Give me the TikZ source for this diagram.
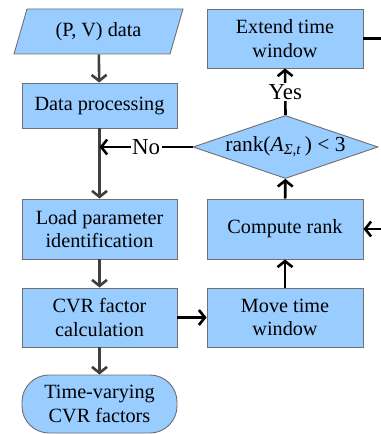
\documentclass[tikz,border=0pt]{standalone}
\usepackage{fontspec}
\setmainfont{Liberation Serif}
\usetikzlibrary{arrows.meta,shapes.geometric}
\definecolor{boxblue}{HTML}{99CCFF}
\definecolor{edgegray}{HTML}{707070}
\definecolor{flowgray}{HTML}{404040}
\begin{document}
\begin{tikzpicture}[x=1bp, y=-1bp,
    font=\fontsize{20.3}{23.5}\selectfont,
    proc/.style={rectangle, draw=edgegray, line width=0.9bp, fill=boxblue,
      minimum width=155bp, minimum height=59bp, align=center, inner sep=0pt},
    io/.style={trapezium, trapezium left angle=67, trapezium right angle=113,
      trapezium stretches=true, draw=edgegray, line width=0.9bp, fill=boxblue,
      minimum width=169bp, minimum height=45bp, inner sep=0pt},
    term/.style={proc, rounded corners=27bp, minimum height=58bp},
    decide/.style={diamond, draw=edgegray, line width=0.9bp, fill=boxblue,
      minimum width=185bp, minimum height=63bp, inner sep=0pt},
    flow/.style={-{Straight Barb[length=6bp,width=15bp]}, line width=2.6bp, flowgray},
    loop/.style={-{Straight Barb[length=6bp,width=15bp]}, line width=2.6bp, black},
    tag/.style={fill=white, inner sep=1.5bp, font=\fontsize{23}{26}\selectfont}]
  \useasboundingbox (0,0) rectangle (380,434);
  % left column
  \node[io] (data) at (98.5,31.5) {(P, V) data};
  \node[proc, minimum height=45bp] (prep) at (99.5,105.5) {Data processing};
  \node[proc, minimum height=60bp] (load) at (99.5,229) {Load parameter\\identification};
  \node[proc] (cvr) at (99.5,317.5) {CVR factor\\calculation};
  \node[term] (res) at (99.5,404) {Time-varying\\CVR factors};
  % right column
  \node[proc, minimum width=156bp] (ext) at (285,38.5) {Extend time\\window};
  \node[decide] (test) at (285.5,147) {};
  \node[font=\fontsize{21.5}{24}\selectfont] (testtxt) at (test.center)
    {rank(\textit{A}\textsubscript{\textit{Σ,t}}\,) < 3};
  \node[proc, minimum width=156bp, minimum height=60bp] (rank) at (285,229) {Compute rank};
  \node[proc, minimum width=156bp] (move) at (285,317.5) {Move time\\window};
  \coordinate (join) at (prep.south |- test.west);
  \coordinate (outr) at (381,38.5);
  \coordinate (inr) at (381,229);

  \draw[flow] (data) -- (prep);
  \draw[flow] (prep) -- (load);
  \draw[flow] (load) -- (cvr);
  \draw[flow] (cvr) -- (res);
  \draw[loop] (cvr) -- (move);
  \draw[loop] (move) -- (rank);
  \draw[loop] (rank) -- (test);
  \draw[loop] (test.north) -- node[tag] {Yes} (ext.south);
  \draw[loop] (test.west) -- node[tag, pos=0.5] {No} (join);
  \draw[line width=2.6bp] (ext.east) -- (outr);
  \draw[loop] (inr) -- (rank.east);
\end{tikzpicture}
\end{document}
